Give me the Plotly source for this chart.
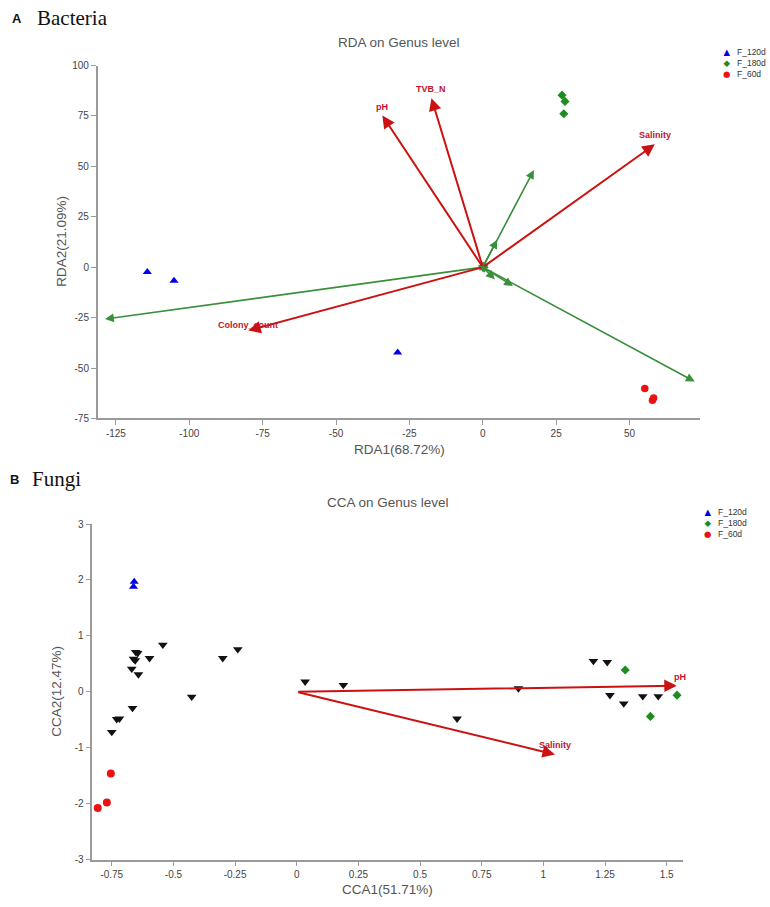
import plotly.graph_objects as go

# ---------------- data: Bacteria (RDA) ----------------
bac_groups = ["F_120d", "F_180d", "F_60d"]
bac_120d_x = [-114.3, -105.2, -29.0]
bac_120d_y = [-2.4, -6.7, -42.3]
bac_180d_x = [27.0, 28.0, 27.6]
bac_180d_y = [85.3, 82.2, 76.1]
bac_60d_x = [55.2, 57.8, 58.2]
bac_60d_y = [-60.1, -66.0, -64.9]

bac_env_names = ["pH", "TVB_N", "Salinity", "Colony_count"]
bac_env_x = [-34.2, -17.5, 58.6, -79.9]
bac_env_y = [75.2, 83.8, 60.9, -31.4]

bac_spec_x = [-128.7, 72.2, 17.4, 4.9, 4.1, 10.3, 1.6, -1.5, 2.0, -1.2]
bac_spec_y = [-25.7, -56.7, 48.2, 13.6, -6.0, -9.3, 1.8, 1.0, -2.0, -1.6]

bac_xticks = [-125, -100, -75, -50, -25, 0, 25, 50]
bac_xticktext = ["-125", "-100", "-75", "-50", "-25", "0", "25", "50"]
bac_yticks = [-75, -50, -25, 0, 25, 50, 75, 100]
bac_yticktext = ["-75", "-50", "-25", "0", "25", "50", "75", "100"]

# ---------------- data: Fungi (CCA) ----------------
fun_120d_x = [-0.659, -0.662]
fun_120d_y = [1.97, 1.88]
fun_180d_x = [1.332, 1.542, 1.434]
fun_180d_y = [0.39, -0.06, -0.44]
fun_60d_x = [-0.754, -0.770, -0.807]
fun_60d_y = [-1.46, -1.98, -2.08]

fun_spec_x = [-0.653, -0.645, -0.662, -0.655, -0.669, -0.642, -0.597, -0.543,
              -0.666, -0.730, -0.719, -0.750, -0.426, -0.300, -0.239, 0.034,
              0.189, 0.650, 0.899, 1.203, 1.259, 1.270, 1.326, 1.403, 1.466]
fun_spec_y = [0.71, 0.69, 0.59, 0.56, 0.41, 0.31, 0.60, 0.84,
              -0.29, -0.49, -0.48, -0.72, -0.09, 0.60, 0.76, 0.18,
              0.12, -0.48, 0.06, 0.55, 0.53, -0.06, -0.21, -0.08, -0.08]

fun_env_names = ["pH", "Salinity"]
fun_env_x = [1.541, 1.047]
fun_env_y = [0.11, -1.12]

fun_xticks = [-0.75, -0.5, -0.25, 0, 0.25, 0.5, 0.75, 1, 1.25, 1.5]
fun_xticktext = ["-0.75", "-0.5", "-0.25", "0", "0.25", "0.5", "0.75", "1", "1.25", "1.5"]
fun_yticks = [-3, -2, -1, 0, 1, 2, 3]
fun_yticktext = ["-3", "-2", "-1", "0", "1", "2", "3"]

# ---------------- styling ----------------
W, H = 770, 907
def px(x):
    return x / W
def py(y):
    return 1 - y / H

BLUE = "#0000e6"
GREEN = "#1e8c1e"
RED = "#ee1111"
ARROW_RED = "#cc1111"
ARROW_GREEN = "#3a8f3a"
LABEL_RED = "#c0142a"
AXIS_GRAY = "#9a9a9a"
TEXT_GRAY = "#555555"
SANS = "Liberation Sans, Arial, sans-serif"
SERIF = "Liberation Serif, Times New Roman, serif"

fig = go.Figure()

def pts(x, y, sym, size, color, xa, ya, name):
    fig.add_trace(go.Scatter(x=x, y=y, mode="markers", name=name,
                             marker=dict(symbol=sym, size=size, color=color, line=dict(width=0)),
                             xaxis=xa, yaxis=ya, showlegend=False, hoverinfo="x+y+name"))

pts(bac_120d_x, bac_120d_y, "triangle-up", 8, BLUE, "x", "y", "F_120d")
pts(bac_180d_x, bac_180d_y, "diamond", 7, GREEN, "x", "y", "F_180d")
pts(bac_60d_x, bac_60d_y, "circle", 7.5, RED, "x", "y", "F_60d")

pts(fun_spec_x, fun_spec_y, "triangle-down", 8.5, "#111111", "x2", "y2", "species")
pts(fun_120d_x, fun_120d_y, "triangle-up", 8, BLUE, "x2", "y2", "F_120d")
pts(fun_180d_x, fun_180d_y, "diamond", 7, GREEN, "x2", "y2", "F_180d")
pts(fun_60d_x, fun_60d_y, "circle", 8, RED, "x2", "y2", "F_60d")

annotations = []

def arrow(xr, yr, x, y, color, width, size):
    annotations.append(dict(x=x, y=y, ax=0, ay=0, xref=xr, yref=yr, axref=xr, ayref=yr,
                            text="", showarrow=True, arrowhead=2, arrowsize=size,
                            arrowwidth=width, arrowcolor=color, standoff=0, startstandoff=0))

def vlabel(xr, yr, x, y, text, yshift=9, xshift=0):
    annotations.append(dict(x=x, y=y, xref=xr, yref=yr, text="<b>%s</b>" % text,
                            showarrow=False, yshift=yshift, xshift=xshift,
                            font=dict(family=SANS, size=9, color=LABEL_RED)))

for sx, sy in zip(bac_spec_x, bac_spec_y):
    arrow("x", "y", sx, sy, ARROW_GREEN, 1.6, 1.1)
for ex, ey, nm in zip(bac_env_x, bac_env_y, bac_env_names):
    arrow("x", "y", ex, ey, ARROW_RED, 2, 1.25)
    vlabel("x", "y", ex, ey, nm, yshift=9 if nm != "Colony_count" else 6)

for ex, ey, nm in zip(fun_env_x, fun_env_y, fun_env_names):
    arrow("x2", "y2", ex, ey, ARROW_RED, 2, 1.25)
    vlabel("x2", "y2", ex, ey, nm, yshift=9, xshift=3 if nm == "pH" else 0)

def ptext(x, y, text, size, color=TEXT_GRAY, family=SANS, xanchor="center", angle=0):
    annotations.append(dict(x=px(x), y=py(y), xref="paper", yref="paper", text=text,
                            showarrow=False, xanchor=xanchor, yanchor="middle",
                            textangle=angle, font=dict(family=family, size=size, color=color)))

# panel labels
ptext(10, 13, "<b>A</b>", 13, "#111111", xanchor="left")
ptext(35, 12, "Bacteria", 21, "#111111", family=SERIF, xanchor="left")
ptext(8, 480, "<b>B</b>", 13, "#111111", xanchor="left")
ptext(30, 479, "Fungi", 21, "#111111", family=SERIF, xanchor="left")

# titles
ptext(399, 37, "RDA on Genus level", 13.5)
ptext(387.5, 503, "CCA on Genus level", 13.5)

# axis titles
ptext(399, 449, "RDA1(68.72%)", 13.5)
ptext(62, 239, "RDA2(21.09%)", 13.5, angle=-90)
ptext(387.5, 895, "CCA1(51.71%)", 13.5)
ptext(57, 695, "CCA2(12.47%)", 13.5, angle=-90)

# legends: a glyph column and a label column, each one multi-line text
legend_syms = ["\u25B2", "\u25C6", "\u25CF"]
legend_cols = [BLUE, GREEN, RED]
def legend(xm, ymid):
    glyphs = "<br>".join("<span style='color:%s'>%s</span>" % (c, s)
                         for s, c in zip(legend_syms, legend_cols))
    labels = "<br>".join(bac_groups)
    annotations.append(dict(x=px(xm), y=py(ymid), xref="paper", yref="paper", text=glyphs,
                            showarrow=False, xanchor="center", yanchor="middle", align="center",
                            borderpad=0, font=dict(family="DejaVu Sans", size=8.5, color="#333333")))
    annotations.append(dict(x=px(xm + 10), y=py(ymid), xref="paper", yref="paper", text=labels,
                            showarrow=False, xanchor="left", yanchor="middle", align="left",
                            borderpad=0, font=dict(family=SANS, size=8.5, color="#333333")))

legend(726, 58)
legend(707, 524)

axis_common = dict(showline=True, linecolor=AXIS_GRAY, linewidth=1.5, ticks="outside",
                   ticklen=5, tickwidth=1, tickcolor=AXIS_GRAY, showgrid=False, zeroline=False,
                   tickfont=dict(family=SANS, size=10, color="#444444"), tickmode="array")

fig.update_layout(
    width=W, height=H, margin=dict(l=0, r=0, t=0, b=0),
    paper_bgcolor="white", plot_bgcolor="white", showlegend=False,
    xaxis=dict(domain=[px(97.7), px(700)], range=[-131.2, 74], anchor="y",
               tickvals=bac_xticks, ticktext=bac_xticktext, **axis_common),
    yaxis=dict(domain=[py(418), py(60.3)], range=[-75, 100], anchor="x",
               tickvals=bac_yticks, ticktext=bac_yticktext, **axis_common),
    xaxis2=dict(domain=[px(92.3), px(682.7)], range=[-0.829, 1.565], anchor="y2",
                tickvals=fun_xticks, ticktext=fun_xticktext, **axis_common),
    yaxis2=dict(domain=[py(865), py(525)], range=[-3, 3], anchor="x2",
                tickvals=fun_yticks, ticktext=fun_yticktext, **axis_common),
    annotations=annotations,
)

fig.write_html("out.html", config={"displayModeBar": False},
               post_script="document.body.style.margin='0';document.body.style.overflow='hidden';")
